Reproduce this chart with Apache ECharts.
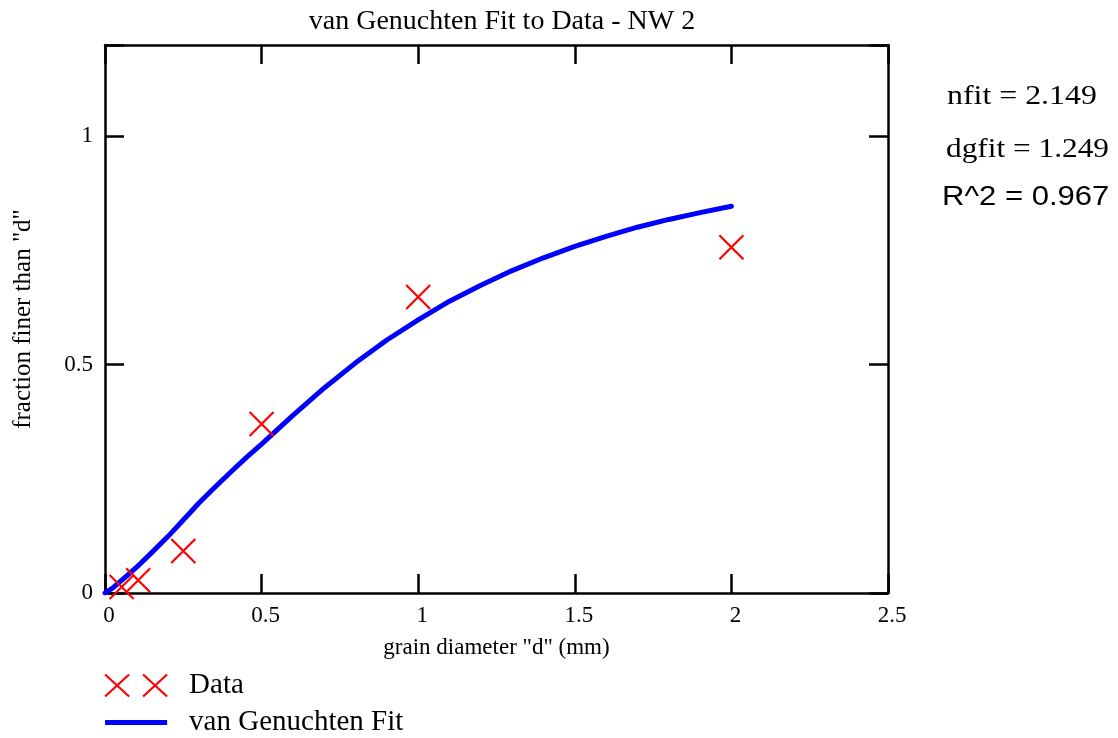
<!DOCTYPE html>
<html>
<head>
<meta charset="utf-8">
<script src="https://cdn.jsdelivr.net/npm/echarts@6/dist/echarts.min.js"></script>
<style>
html,body{margin:0;padding:0;background:#fff;}
#chart{width:1118px;height:738px;}
</style>
</head>
<body>
<div id="chart"></div>
<script>
// Data
const dataX = [0.053, 0.106, 0.25, 0.5, 1.0, 2.0];
const dataY = [0.013, 0.028, 0.092, 0.37, 0.648, 0.757];

const fitX = [0, 0.025, 0.05, 0.075, 0.1, 0.15, 0.2, 0.25, 0.3, 0.35, 0.4, 0.45, 0.5, 0.6, 0.7, 0.8, 0.9, 1.0, 1.1, 1.2, 1.3, 1.4, 1.5, 1.6, 1.7, 1.8, 1.9, 2.0];
const fitY = [0, 0.011, 0.026, 0.041, 0.056, 0.089, 0.123, 0.160, 0.197, 0.231, 0.264, 0.296, 0.326, 0.389, 0.449, 0.504, 0.554, 0.598, 0.639, 0.674, 0.706, 0.734, 0.759, 0.781, 0.801, 0.818, 0.833, 0.847];

const xTicks = {min: 0, max: 2.5, interval: 0.5};
const yTicks = {min: 0, max: 1.2, interval: 0.5};

const annotations = ['nfit = 2.149', 'dgfit = 1.249', 'R^2 = 0.967'];

const serif = '"Liberation Serif", "Times New Roman", serif';
const sans = '"Liberation Sans", Arial, sans-serif';

const chart = echarts.init(document.getElementById('chart'));

const axisLine = {show: true, onZero: false, lineStyle: {color: '#000', width: 2.5}};
const tickIn = {show: true, inside: true, length: 19, lineStyle: {color: '#000', width: 2.5}};

function yFmt(v) {
  if (Math.abs(v / 0.5 - Math.round(v / 0.5)) > 1e-6) return '';
  return String(+v.toFixed(2));
}

const option = {
  backgroundColor: '#fff',
  animation: false,
  title: {
    text: 'van Genuchten Fit to Data - NW 2',
    left: 497,
    textAlign: 'center',
    top: 3,
    textStyle: {fontFamily: serif, fontSize: 28, fontWeight: 'normal', color: '#000'}
  },
  grid: {left: 105, right: 230, top: 45, bottom: 145, containLabel: false},
  legend: {
    orient: 'vertical',
    left: 104,
    top: 671,
    padding: 0,
    itemWidth: 62,
    itemHeight: 22,
    itemGap: 8,
    textStyle: {fontFamily: serif, fontSize: 29, color: '#000', padding: [0, 0, 0, 17]},
    data: [
      {name: 'Data', icon: 'path://M0,0L24,22M24,0L0,22M38,0L62,22M62,0L38,22',
       itemStyle: {color: 'rgba(0,0,0,0)', borderColor: '#ff0000', borderWidth: 2.2}},
      {name: 'van Genuchten Fit', icon: 'path://M0,0L62,0L62,5L0,5Z',
       itemStyle: {color: '#0000ff', borderWidth: 0}}
    ]
  },
  xAxis: [
    {
      type: 'value', position: 'bottom', min: xTicks.min, max: xTicks.max, interval: xTicks.interval,
      name: 'grain diameter "d" (mm)', nameLocation: 'middle', nameGap: 43,
      nameTextStyle: {fontFamily: serif, fontSize: 23, color: '#000'},
      axisLine: axisLine, axisTick: tickIn, splitLine: {show: false},
      axisLabel: {fontFamily: serif, fontSize: 23, color: '#000', margin: 11, padding: [0, 0, 0, 8]}
    },
    {
      type: 'value', position: 'top', min: xTicks.min, max: xTicks.max, interval: xTicks.interval,
      axisLine: axisLine, axisTick: tickIn, splitLine: {show: false}, axisLabel: {show: false}
    }
  ],
  yAxis: [
    {
      type: 'value', position: 'left', min: yTicks.min, max: yTicks.max, interval: yTicks.interval,
      name: 'fraction finer than "d"', nameLocation: 'middle', nameGap: 69,
      nameTextStyle: {fontFamily: serif, fontSize: 25, color: '#000'},
      axisLine: axisLine, axisTick: tickIn, splitLine: {show: false},
      axisLabel: {fontFamily: serif, fontSize: 23, color: '#000', margin: 12, formatter: yFmt}
    },
    {
      type: 'value', position: 'right', min: yTicks.min, max: yTicks.max, interval: yTicks.interval,
      axisLine: axisLine, axisTick: tickIn, splitLine: {show: false}, axisLabel: {show: false}
    }
  ],
  series: [
    {
      name: 'van Genuchten Fit',
      type: 'line',
      xAxisIndex: 0, yAxisIndex: 0,
      data: fitX.map((x, i) => [x, fitY[i]]),
      showSymbol: false, symbol: 'none',
      lineStyle: {color: '#0000ff', width: 5, join: 'round', cap: 'round'},
      itemStyle: {color: '#0000ff'},
      z: 3
    },
    {
      name: 'Data',
      type: 'scatter',
      xAxisIndex: 0, yAxisIndex: 0,
      data: dataX.map((x, i) => [x, dataY[i]]),
      symbol: 'path://M0,0L10,10M10,0L0,10',
      symbolSize: 24,
      itemStyle: {color: 'rgba(0,0,0,0)', borderColor: '#ff0000', borderWidth: 2.2, opacity: 1},
      z: 4
    }
  ],
  graphic: [
    {type: 'text', x: 947, y: 97, scaleX: 1.18,
     style: {text: annotations[0], fontFamily: serif, fontSize: 27, fill: '#000', verticalAlign: 'middle'}},
    {type: 'text', x: 946, y: 150, scaleX: 1.16,
     style: {text: annotations[1], fontFamily: serif, fontSize: 27, fill: '#000', verticalAlign: 'middle'}},
    {type: 'text', x: 942, y: 198, scaleX: 1.15,
     style: {text: annotations[2], fontFamily: sans, fontSize: 27, fill: '#000', verticalAlign: 'middle'}}
  ]
};

chart.setOption(option);
</script>
</body>
</html>
